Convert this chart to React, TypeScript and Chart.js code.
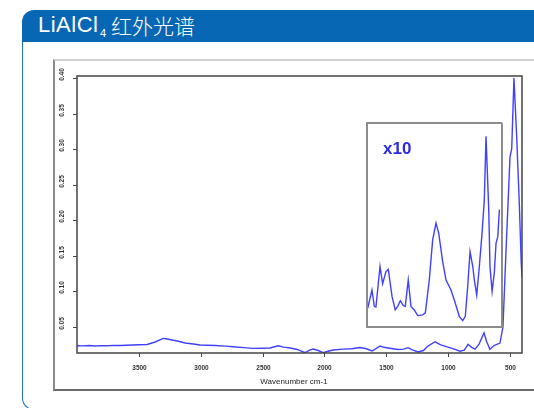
import React, { useEffect, useRef } from "react";
import { Chart, registerables } from "chart.js";

Chart.register(...registerables);

// ---- Data ----
const titleFormula = "LiAlCl";
const titleSubscript = "4";
const titleChinese = "红外光谱";
const xAxisTitle = "Wavenumber cm-1";
const insetLabel = "x10";

const xTickValues = [3500, 3000, 2500, 2000, 1500, 1000, 500];
const yTickValues = [0.05, 0.1, 0.15, 0.2, 0.25, 0.3, 0.35, 0.4];
const yTickLabels = ["0.05", "0.10", "0.15", "0.20", "0.25", "0.30", "0.35", "0.40"];

const mainWavenumbers = [
  4000, 3950, 3900, 3850, 3813, 3760, 3700, 3651, 3600, 3550, 3500, 3433, 3368, 3304, 3270,
  3231, 3180, 3126, 3060, 3005, 2950, 2884, 2800, 2738, 2650, 2577, 2500, 2439, 2375, 2330,
  2278, 2220, 2156, 2120, 2092, 2050, 2011, 1970, 1930, 1849, 1780, 1712, 1660, 1615, 1580,
  1550, 1520, 1486, 1405, 1360, 1324, 1290, 1243, 1200, 1163, 1106, 1060, 1009, 950, 904,
  870, 839, 810, 783, 750, 710, 690, 662, 630, 581, 557, 532, 500, 486, 468, 446, 425, 409, 403,
];
const mainAbsorbance = [
  0.0237, 0.0235, 0.024, 0.0233, 0.0238, 0.0236, 0.0242, 0.024, 0.0245, 0.0248, 0.025, 0.0255, 0.029, 0.0341, 0.0332,
  0.0317, 0.03, 0.0275, 0.0262, 0.0247, 0.0245, 0.024, 0.0232, 0.0223, 0.021, 0.02, 0.0202, 0.0205, 0.0237, 0.0218,
  0.0205, 0.0185, 0.014, 0.0175, 0.019, 0.017, 0.014, 0.016, 0.0177, 0.019, 0.0195, 0.0212, 0.0195, 0.0163, 0.02,
  0.0233, 0.0215, 0.0205, 0.0184, 0.019, 0.021, 0.018, 0.0149, 0.017, 0.0233, 0.0293, 0.025, 0.022, 0.019, 0.016,
  0.0175, 0.0257, 0.0215, 0.019, 0.026, 0.042, 0.03, 0.0187, 0.024, 0.0275, 0.05, 0.158, 0.289, 0.301, 0.4, 0.318, 0.224, 0.14, 0.12,
];

const insetWavenumbers = [
  1650, 1615, 1596, 1583, 1550, 1529, 1502, 1483, 1453, 1427, 1407, 1386, 1362, 1346, 1322, 1300,
  1273, 1246, 1205, 1184, 1152, 1125, 1098, 1076, 1044, 1017, 977, 950, 910, 882, 861, 842, 823,
  801, 788, 769, 748, 726, 708, 694, 672, 662, 645, 627, 613, 599, 586,
];
const insetAbsorbance = [
  0.0158, 0.0184, 0.0161, 0.016, 0.0217, 0.0193, 0.021, 0.0213, 0.0175, 0.0156, 0.0161, 0.0169, 0.0162, 0.0161, 0.0198, 0.0161,
  0.0156, 0.0148, 0.0149, 0.0152, 0.0198, 0.0254, 0.0278, 0.0264, 0.0224, 0.0198, 0.0184, 0.017, 0.0147, 0.0141, 0.0147, 0.0189, 0.0238,
  0.0217, 0.0198, 0.0177, 0.0217, 0.0264, 0.031, 0.04, 0.0297, 0.0217, 0.0182, 0.0208, 0.025, 0.0259, 0.0297,
];

const LINE_COLOR = "#4040ff";
const FRAME_FONT = "'Liberation Sans', Arial, sans-serif";

const axesPlugin = {
  id: "rAxes",
  afterDraw(chart: any) {
    const { ctx, chartArea, scales } = chart;
    const { left, right, top, bottom } = chartArea;
    ctx.save();
    ctx.strokeStyle = "#444";
    ctx.lineWidth = 1.5;
    ctx.strokeRect(left, top, right - left, bottom - top);
    ctx.lineWidth = 1;
    ctx.fillStyle = "#333";
    // x ticks
    ctx.font = `bold 6.5px ${FRAME_FONT}`;
    ctx.textAlign = "center";
    ctx.textBaseline = "middle";
    xTickValues.forEach((v) => {
      const px = Math.round(scales.x.getPixelForValue(v)) + 0.5;
      ctx.beginPath();
      ctx.moveTo(px, bottom);
      ctx.lineTo(px, bottom + 4);
      ctx.stroke();
      ctx.fillText(String(v), px, bottom + 15);
    });
    // y ticks
    yTickValues.forEach((v, i) => {
      const py = Math.round(scales.y.getPixelForValue(v)) + 0.5;
      ctx.beginPath();
      ctx.moveTo(left - 4, py);
      ctx.lineTo(left, py);
      ctx.stroke();
      ctx.save();
      ctx.translate(left - 15, py - 4);
      ctx.rotate(-Math.PI / 2);
      ctx.fillText(yTickLabels[i], 0, 0);
      ctx.restore();
    });
    // axis title
    ctx.font = `8px ${FRAME_FONT}`;
    ctx.fillStyle = "#222";
    ctx.fillText(xAxisTitle, 294, bottom + 29);
    ctx.restore();
  },
};

const insetLabelPlugin = {
  id: "insetLabel",
  afterDraw(chart: any) {
    const { ctx } = chart;
    ctx.save();
    ctx.font = `bold 17px ${FRAME_FONT}`;
    ctx.fillStyle = "#2b2be0";
    ctx.textAlign = "left";
    ctx.textBaseline = "alphabetic";
    ctx.fillText(insetLabel, 15, 29.5);
    ctx.restore();
  },
};

export default function App() {
  const mainRef = useRef<HTMLCanvasElement | null>(null);
  const insetRef = useRef<HTMLCanvasElement | null>(null);

  useEffect(() => {
    if (!mainRef.current || !insetRef.current) return;
    const main = new Chart(mainRef.current, {
      type: "line",
      data: {
        datasets: [
          {
            data: mainWavenumbers.map((x, i) => ({ x, y: mainAbsorbance[i] })),
            borderColor: LINE_COLOR,
            borderWidth: 1.4,
            pointRadius: 0,
            tension: 0,
          },
        ],
      },
      options: {
        responsive: false,
        animation: false,
        layout: { padding: { left: 77, top: 76, right: 12, bottom: 55 } },
        scales: {
          x: { type: "linear", reverse: true, min: 403, max: 4000, display: false },
          y: { type: "linear", min: 0.0135, max: 0.403, display: false },
        },
        plugins: { legend: { display: false }, tooltip: { enabled: false } },
      },
      plugins: [axesPlugin],
    } as any);

    const inset = new Chart(insetRef.current, {
      type: "line",
      data: {
        datasets: [
          {
            data: insetWavenumbers.map((x, i) => ({ x, y: insetAbsorbance[i] })),
            borderColor: LINE_COLOR,
            borderWidth: 1.4,
            pointRadius: 0,
            tension: 0,
          },
        ],
      },
      options: {
        responsive: false,
        animation: false,
        layout: { padding: 0 },
        scales: {
          x: { type: "linear", reverse: true, min: 573, max: 1647, display: false },
          y: { type: "linear", min: 0.01334, max: 0.04174, display: false },
        },
        plugins: { legend: { display: false }, tooltip: { enabled: false } },
      },
      plugins: [insetLabelPlugin],
    } as any);

    return () => {
      main.destroy();
      inset.destroy();
    };
  }, []);

  const abs = (s: React.CSSProperties): React.CSSProperties => ({ position: "absolute", boxSizing: "border-box", ...s });

  return (
    <div style={abs({ left: 0, top: 0, width: 534, height: 408, overflow: "hidden", background: "#fff" })}>
      {/* panel border */}
      <div
        style={abs({
          left: 22,
          top: 40,
          width: 530,
          height: 370,
          borderLeft: "1px solid #1f70c0",
          borderBottom: "1px solid #1f70c0",
          borderBottomLeftRadius: 12,
        })}
      />
      {/* header bar */}
      <div
        style={abs({
          left: 22,
          top: 10,
          width: 520,
          height: 32,
          background: "#0767b5",
          borderTopLeftRadius: 12,
        })}
      />
      <span
        style={abs({
          left: 38,
          top: 14,
          fontFamily: FRAME_FONT,
          fontSize: 22,
          lineHeight: "22px",
          letterSpacing: "0.5px",
          color: "#fff",
          whiteSpace: "nowrap",
        })}
      >
        {titleFormula}
      </span>
      <span
        style={abs({
          left: 100,
          top: 28,
          fontFamily: FRAME_FONT,
          fontSize: 11,
          lineHeight: "11px",
          color: "#fff",
        })}
      >
        {titleSubscript}
      </span>
      <span
        style={abs({
          left: 111,
          top: 15,
          fontFamily: "'Noto Sans CJK SC', sans-serif",
          fontWeight: 300,
          fontSize: 21,
          lineHeight: "21px",
          color: "#fff",
          whiteSpace: "nowrap",
        })}
      >
        {titleChinese}
      </span>
      {/* image frame */}
      <div
        style={abs({
          left: 53,
          top: 59,
          width: 500,
          height: 332,
          borderTop: "2px solid #d2d2d2",
          borderLeft: "2px solid #8a8a8a",
          borderBottom: "2px solid #6a6a6a",
        })}
      />
      <canvas
        ref={mainRef}
        width={534}
        height={408}
        style={{ position: "absolute", left: 0, top: 0, width: 534, height: 408 }}
      />
      {/* inset */}
      <div
        style={abs({
          left: 366,
          top: 122,
          width: 137,
          height: 206,
          border: "2px solid #8c8c8c",
          borderTopRightRadius: 2,
          background: "#fff",
        })}
      >
        <canvas
          ref={insetRef}
          width={133}
          height={202}
          style={{ position: "absolute", left: 0, top: 0, width: 133, height: 202 }}
        />
      </div>
    </div>
  );
}
